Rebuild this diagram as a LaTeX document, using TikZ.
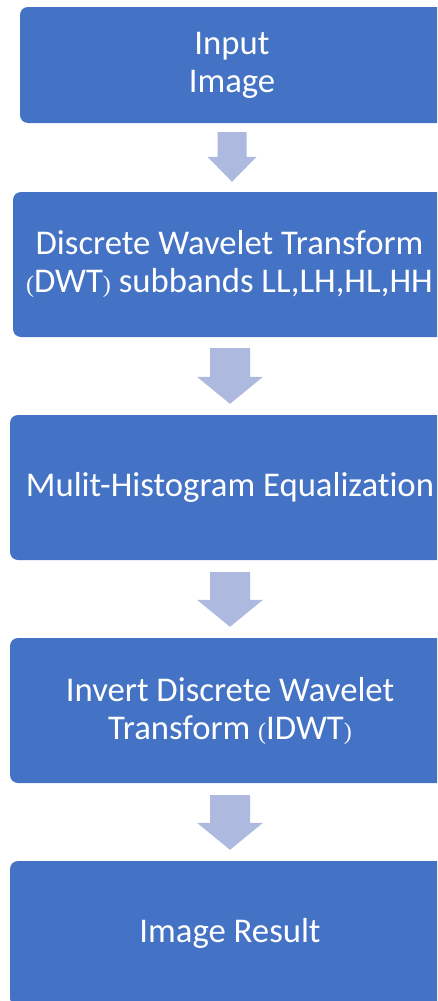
\documentclass[tikz,border=0pt]{standalone}
\usepackage{fontspec}
\setmainfont[Ligatures=NoCommon]{Carlito}
\newfontfamily\parenfont{Liberation Serif}
\usetikzlibrary{calc}

\definecolor{boxblue}{RGB}{68,114,196}
\definecolor{arrowblue}{RGB}{173,185,222}

% small serif brackets used inside the labels
\newcommand{\pbr}[1]{{\parenfont\fontsize{24}{24}\selectfont #1}}

% block arrow: top centre, tip, half shaft width, half head width, head length
\newcommand{\blockarrow}[5]{%
  \fill[flow] ($(#1)+(-#3,0)$) -- ($(#1)+(#3,0)$) -- ($(#2)+(#3,-#5)$)
    -- ($(#2)+(#4,-#5)$) -- (#2) -- ($(#2)+(-#4,-#5)$) -- ($(#2)+(-#3,-#5)$) -- cycle;}

\begin{document}
\begin{tikzpicture}[x=1pt,y=-1pt,
  stage/.style={fill=boxblue, rounded corners=8pt, text=white, align=center,
    font=\fontsize{34.7}{38}\selectfont, inner sep=0pt},
  flow/.style={fill=arrowblue}]
\useasboundingbox (0,0) rectangle (437,1001);
\clip (0,0) rectangle (437,1001);

\node[stage, minimum width=424pt, minimum height=116pt] (input) at (232,65)
  {Input\\Image};
\node[stage, minimum width=433pt, minimum height=145pt] (dwt) at (229.5,264.5)
  {Discrete Wavelet Transform\\\pbr{(}DWT\pbr{)} subbands LL,LH,HL,HH};
\node[stage, minimum width=440pt, minimum height=145pt] (mhe) at (230,487.5)
  {Mulit-Histogram Equalization};
\node[stage, minimum width=440pt, minimum height=145pt] (idwt) at (230,710.5)
  {Invert Discrete Wavelet\\Transform \pbr{(}IDWT\pbr{)}};
\node[stage, minimum width=440pt, minimum height=145pt] (result) at (230,933.5)
  {Image Result};

\coordinate (a1top) at ($(input.south)+(0,9)$);
\coordinate (a1tip) at ($(dwt.north)+(2.5,-10)$);
\coordinate (a2top) at ($(dwt.south)+(0.5,11)$);
\coordinate (a2tip) at ($(mhe.north)+(0,-11)$);
\coordinate (a3top) at ($(mhe.south)+(0,12)$);
\coordinate (a3tip) at ($(idwt.north)+(0,-11)$);
\coordinate (a4top) at ($(idwt.south)+(0,12)$);
\coordinate (a4tip) at ($(result.north)+(0,-11)$);

\blockarrow{a1top}{a1tip}{14.5}{24.5}{25}
\blockarrow{a2top}{a2tip}{20}{33}{27}
\blockarrow{a3top}{a3tip}{20}{33}{27}
\blockarrow{a4top}{a4tip}{20}{33}{27}
\end{tikzpicture}
\end{document}
